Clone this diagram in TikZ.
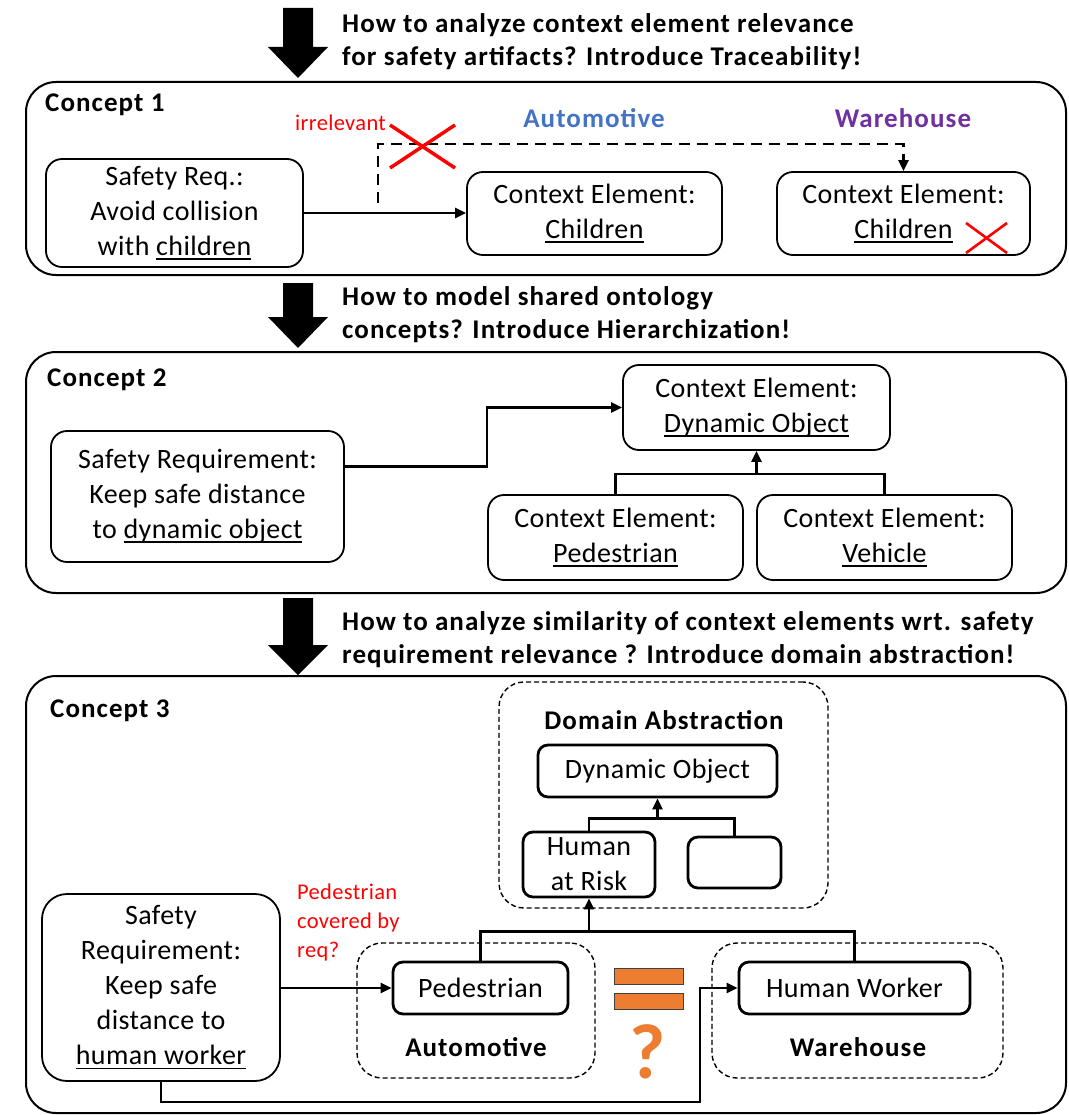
\documentclass[tikz,border=0pt]{standalone}
\usepackage{fontspec}
\setmainfont{Carlito}
\newfontfamily\rfont{Carlito}[LetterSpace=1.5]
\newfontfamily\bfont{Carlito}[LetterSpace=4]
\usetikzlibrary{arrows.meta,calc}
\definecolor{autoblue}{HTML}{4472C4}
\definecolor{whpurple}{HTML}{7030A0}
\definecolor{xred}{HTML}{FF0000}
\definecolor{eqorange}{HTML}{ED7D31}
\newcommand\rtext{\rfont\fontsize{28}{35}\selectfont}
\newcommand\btext{\bfont\bfseries\fontsize{27}{33}\selectfont}
\newcommand\stext{\rfont\fontsize{22.5}{29}\selectfont}
\newcommand\ulx[1]{\setbox0=\hbox{#1}\rlap{\rule[-4.5pt]{\wd0}{1.8pt}}\box0}
\tikzset{
  cbox/.style={draw, line width=2pt, rounded corners=30pt, inner sep=0pt},
  ibox/.style={draw, line width=1.8pt, rounded corners=16pt, align=center, inner sep=0pt, font=\rtext},
  tbox/.style={ibox, line width=2.8pt, rounded corners=10pt},
  dbox/.style={draw, line width=1.4pt, dash pattern=on 5pt off 3pt, rounded corners=25pt, inner sep=0pt},
  conn/.style={line width=2.6pt, -{Triangle[length=11pt,width=10pt]}},
  plain/.style={line width=2.6pt},
  dconn/.style={line width=2.6pt, dash pattern=on 11pt off 7pt, -{Triangle[length=11pt,width=10pt]}},
  ttl/.style={font=\btext, align=left, inner sep=0pt, anchor=west},
  lbl/.style={font=\btext, inner sep=0pt},
  redtxt/.style={font=\stext, text=xred, inner sep=0pt, align=left},
  redx/.style={draw=xred, line width=3.5pt},
  bar/.style={fill=eqorange, draw=black!75, line width=1pt},
}
\begin{document}
\begin{tikzpicture}[x=1pt,y=-1pt]
\useasboundingbox (0,0) rectangle (1068,1115);

% big arrows
\fill (283,8) -- (313,8) -- (313,47) -- (328,47) -- (298,78) -- (268,47) -- (283,47) -- cycle;
\fill (283,283) -- (313,283) -- (313,317) -- (328,317) -- (298,348) -- (268,317) -- (283,317) -- cycle;
\fill (283,598) -- (313,598) -- (313,645) -- (328,645) -- (298,675) -- (268,645) -- (283,645) -- cycle;

% titles
\node[ttl] (T1) at (342,42) {How to analyze context element relevance\\for safety artifacts? Introduce Traceability!};
\node[ttl] (T2) at (342,315) {How to model shared ontology\\concepts? Introduce Hierarchization!};
\node[ttl] (T3) at (342,640) {How to analyze similarity of context elements wrt. safety\\requirement relevance ? Introduce domain abstraction!};

% concept boxes
\node[cbox, minimum width=1040pt, minimum height=193pt] (C1) at (546,178.5) {};
\node[cbox, minimum width=1040pt, minimum height=241pt] (C2) at (546,472.5) {};
\node[cbox, minimum width=1040pt, minimum height=437pt] (C3) at (546,894.5) {};
\node[lbl, anchor=west] (L1) at (45,105) {Concept 1};
\node[lbl, anchor=west] (L2) at (47,380) {Concept 2};
\node[lbl, anchor=west] (L3) at (50,711) {Concept 3};

% ---------- Concept 1
\node[lbl, text=autoblue] (A1) at (594,118) {Automotive};
\node[lbl, text=whpurple] (W1) at (903,118) {Warehouse};
\node[ibox, minimum width=257pt, minimum height=108pt] (SR1) at (174.5,213) {Safety Req.:\\Avoid collision\\with \ulx{children}};
\node[ibox, minimum width=255pt, minimum height=83pt] (CA1) at (594.5,213.5) {Context Element:\\\ulx{Children}};
\node[ibox, minimum width=253pt, minimum height=83pt] (CW1) at (903.5,213.5) {Context Element:\\\ulx{Children}};
\draw[conn] (SR1.east) -- (SR1.east -| CA1.west);
\coordinate (dstart) at (378,203);
\path (CW1.north) ++(0,-27) coordinate (dcorner);
\draw[dconn] (dstart) |- (dcorner) -- (CW1.north);
\node[redtxt, anchor=west] (irr) at (295,123) {irrelevant};
\draw[redx] (390,125) -- (455,168);
\draw[redx] (455,125) -- (390,168);
\draw[redx, line width=2.6pt] (966,223) -- (1007,253);
\draw[redx, line width=2.6pt] (1007,223) -- (966,253);

% ---------- Concept 2
\node[ibox, minimum width=293pt, minimum height=131pt] (SR2) at (197.5,496.5) {Safety Requirement:\\Keep safe distance\\to \ulx{dynamic object}};
\node[ibox, minimum width=267pt, minimum height=85pt] (DO2) at (756.5,407.5) {Context Element:\\\ulx{Dynamic Object}};
\node[ibox, minimum width=255pt, minimum height=85pt] (PE2) at (615.5,537.5) {Context Element:\\\ulx{Pedestrian}};
\node[ibox, minimum width=255pt, minimum height=85pt] (VE2) at (884.5,537.5) {Context Element:\\\ulx{Vehicle}};
\draw[conn] ([yshift=30pt]SR2.east) -- ++(142,0) |- (DO2.west);
\path (DO2.south) ++(0,23) coordinate (j2);
\draw[plain] (PE2.north) |- (j2) -| (VE2.north);
\draw[conn] (j2) -- (DO2.south);

% ---------- Concept 3
\node[dbox, minimum width=329pt, minimum height=226pt] (DA) at (663.5,795) {};
\node[lbl] (DAL) at (664,720) {Domain Abstraction};
\node[tbox, minimum width=239pt, minimum height=52pt] (DO3) at (657.5,771) {Dynamic Object};
\node[tbox, minimum width=132pt, minimum height=65pt] (HAR) at (589,864.5) {Human\\at Risk};
\node[tbox, minimum width=93pt, minimum height=51pt] (EM) at (734.5,862.5) {};
\path (DO3.south) ++(0,20) coordinate (j3a);
\draw[plain] (HAR.north) |- (j3a) -| (EM.north);
\draw[conn] (j3a) -- (DO3.south);

\node[dbox, minimum width=238pt, minimum height=135pt] (AUD) at (476,1010.5) {};
\node[dbox, minimum width=291pt, minimum height=135pt] (WHD) at (857.5,1010.5) {};
\node[lbl] (AUL) at (476,1047) {Automotive};
\node[lbl] (WHL) at (858,1047) {Warehouse};
\node[tbox, minimum width=175pt, minimum height=52pt] (PE3) at (480.5,988) {Pedestrian};
\node[tbox, minimum width=231pt, minimum height=52pt] (HW) at (854.5,988) {Human Worker};
\path (HAR.south) ++(0,33) coordinate (j3b);
\draw[plain] (PE3.north) |- (j3b) -| (HW.north);
\draw[conn] (j3b) -- (HAR.south);

\node[ibox, rounded corners=25pt, minimum width=238pt, minimum height=187pt] (SR3) at (161,987.5) {Safety\\Requirement:\\Keep safe\\distance to\\\ulx{human worker}};
\draw[conn] (SR3.east |- PE3.west) -- (PE3.west);
\coordinate (b1) at (700,1102);
\draw[conn] (SR3.south) |- (b1) |- (HW.west);
\node[redtxt, anchor=north west] (cov) at (297,884) {Pedestrian\\covered by\\req?};

% equals and question mark
\draw[bar] (614,968) rectangle (683,984);
\draw[bar] (614,993) rectangle (683,1009);
\node[font=\bfont\bfseries\fontsize{78}{78}\selectfont, text=eqorange, inner sep=0pt] (Q) at (648,1052) {?};
\end{tikzpicture}
\end{document}
